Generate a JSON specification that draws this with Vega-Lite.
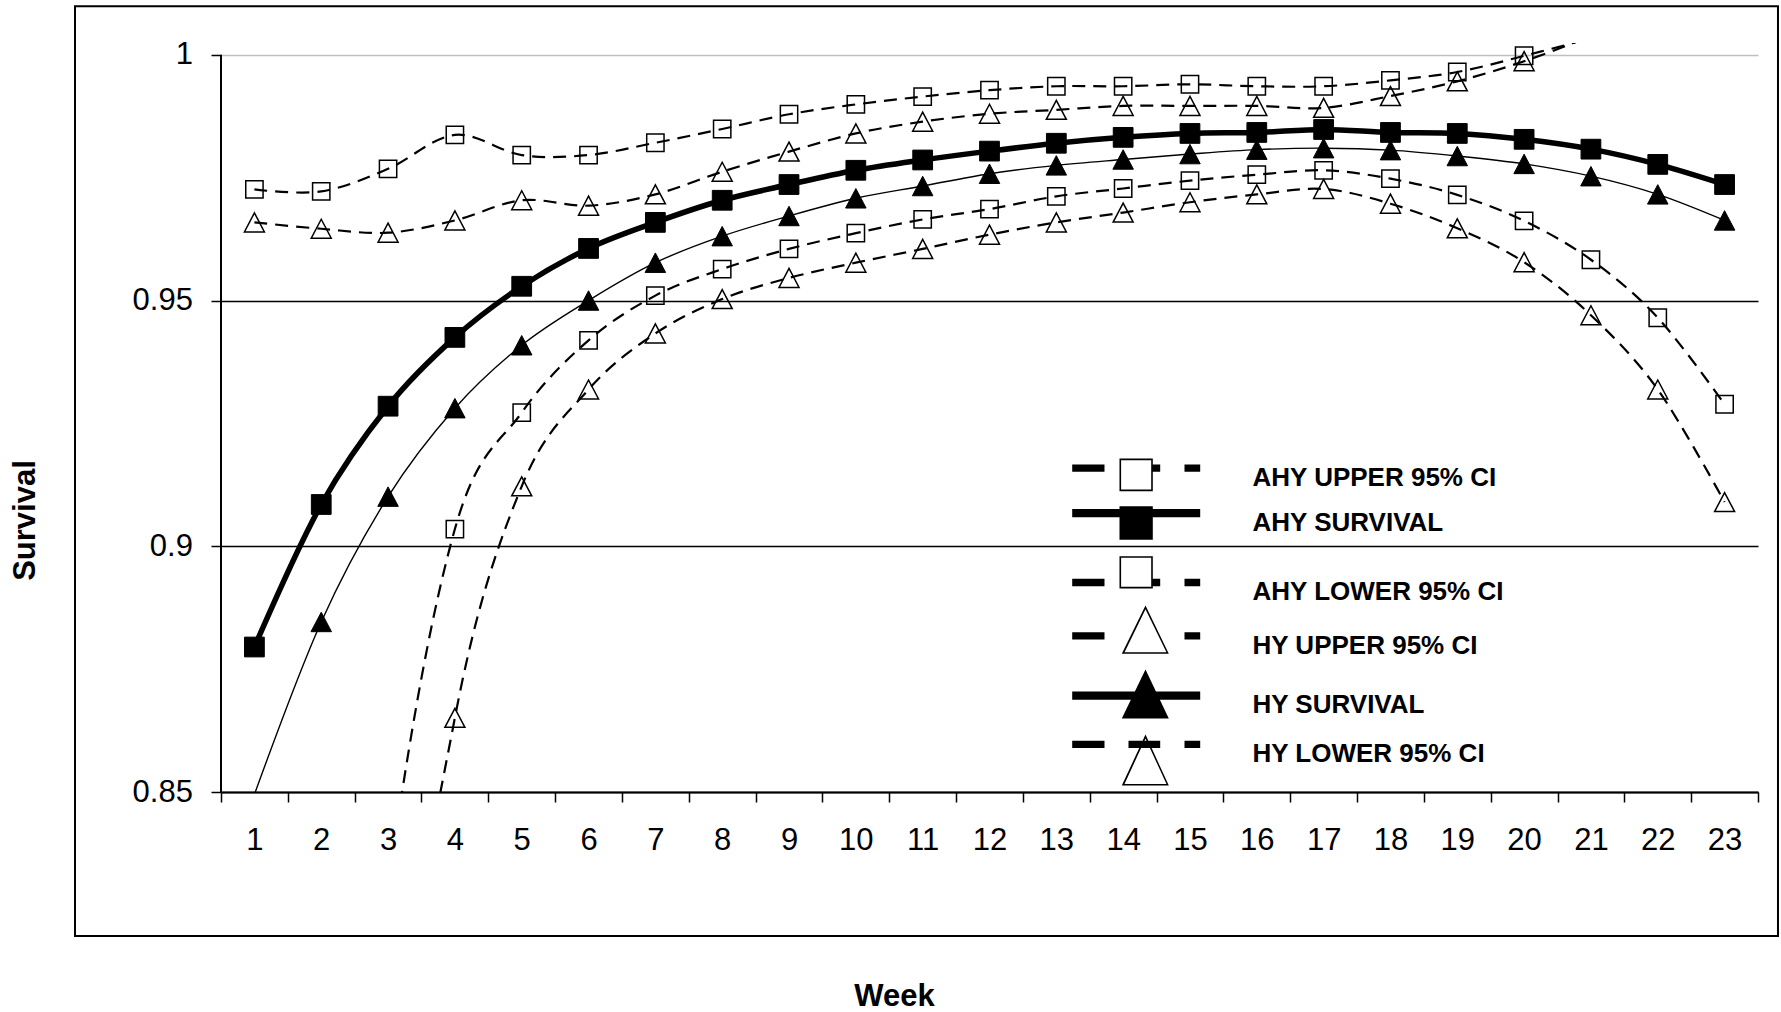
{
  "$schema": "https://vega.github.io/schema/vega-lite/v6.json",
  "width": 1537,
  "height": 749,
  "autosize": {"type": "none"},
  "padding": {"left": 221, "top": 43, "right": 23, "bottom": 220},
  "background": "white",
  "config": {"view": {"stroke": null}, "font": "Liberation Sans"},
  "data": {"values": [
    {"week":1,"series":"AHY UPPER 95% CI","value":0.9726},{"week":2,"series":"AHY UPPER 95% CI","value":0.9722},{"week":3,"series":"AHY UPPER 95% CI","value":0.9768},{"week":4,"series":"AHY UPPER 95% CI","value":0.9837},{"week":5,"series":"AHY UPPER 95% CI","value":0.9796},{"week":6,"series":"AHY UPPER 95% CI","value":0.9796},{"week":7,"series":"AHY UPPER 95% CI","value":0.9821},{"week":8,"series":"AHY UPPER 95% CI","value":0.9849},{"week":9,"series":"AHY UPPER 95% CI","value":0.9879},{"week":10,"series":"AHY UPPER 95% CI","value":0.9899},{"week":11,"series":"AHY UPPER 95% CI","value":0.9915},{"week":12,"series":"AHY UPPER 95% CI","value":0.9928},{"week":13,"series":"AHY UPPER 95% CI","value":0.9936},{"week":14,"series":"AHY UPPER 95% CI","value":0.9936},{"week":15,"series":"AHY UPPER 95% CI","value":0.994},{"week":16,"series":"AHY UPPER 95% CI","value":0.9936},{"week":17,"series":"AHY UPPER 95% CI","value":0.9936},{"week":18,"series":"AHY UPPER 95% CI","value":0.9948},{"week":19,"series":"AHY UPPER 95% CI","value":0.9965},{"week":20,"series":"AHY UPPER 95% CI","value":0.9998},{"week":21,"series":"AHY UPPER 95% CI","value":1.0036},{"week":22,"series":"AHY UPPER 95% CI","value":1.0095},{"week":23,"series":"AHY UPPER 95% CI","value":1.019},
    {"week":1,"series":"AHY SURVIVAL","value":0.8795},{"week":2,"series":"AHY SURVIVAL","value":0.9085},{"week":3,"series":"AHY SURVIVAL","value":0.9285},{"week":4,"series":"AHY SURVIVAL","value":0.9425},{"week":5,"series":"AHY SURVIVAL","value":0.9529},{"week":6,"series":"AHY SURVIVAL","value":0.9606},{"week":7,"series":"AHY SURVIVAL","value":0.9659},{"week":8,"series":"AHY SURVIVAL","value":0.9704},{"week":9,"series":"AHY SURVIVAL","value":0.9736},{"week":10,"series":"AHY SURVIVAL","value":0.9765},{"week":11,"series":"AHY SURVIVAL","value":0.9786},{"week":12,"series":"AHY SURVIVAL","value":0.9804},{"week":13,"series":"AHY SURVIVAL","value":0.982},{"week":14,"series":"AHY SURVIVAL","value":0.9832},{"week":15,"series":"AHY SURVIVAL","value":0.984},{"week":16,"series":"AHY SURVIVAL","value":0.9842},{"week":17,"series":"AHY SURVIVAL","value":0.9848},{"week":18,"series":"AHY SURVIVAL","value":0.9842},{"week":19,"series":"AHY SURVIVAL","value":0.984},{"week":20,"series":"AHY SURVIVAL","value":0.9828},{"week":21,"series":"AHY SURVIVAL","value":0.9808},{"week":22,"series":"AHY SURVIVAL","value":0.9777},{"week":23,"series":"AHY SURVIVAL","value":0.9736},
    {"week":1,"series":"AHY LOWER 95% CI","value":0.55},{"week":2,"series":"AHY LOWER 95% CI","value":0.707},{"week":3,"series":"AHY LOWER 95% CI","value":0.8305},{"week":4,"series":"AHY LOWER 95% CI","value":0.9035},{"week":5,"series":"AHY LOWER 95% CI","value":0.9272},{"week":6,"series":"AHY LOWER 95% CI","value":0.9419},{"week":7,"series":"AHY LOWER 95% CI","value":0.951},{"week":8,"series":"AHY LOWER 95% CI","value":0.9564},{"week":9,"series":"AHY LOWER 95% CI","value":0.9605},{"week":10,"series":"AHY LOWER 95% CI","value":0.9637},{"week":11,"series":"AHY LOWER 95% CI","value":0.9665},{"week":12,"series":"AHY LOWER 95% CI","value":0.9686},{"week":13,"series":"AHY LOWER 95% CI","value":0.9712},{"week":14,"series":"AHY LOWER 95% CI","value":0.9728},{"week":15,"series":"AHY LOWER 95% CI","value":0.9744},{"week":16,"series":"AHY LOWER 95% CI","value":0.9756},{"week":17,"series":"AHY LOWER 95% CI","value":0.9765},{"week":18,"series":"AHY LOWER 95% CI","value":0.9748},{"week":19,"series":"AHY LOWER 95% CI","value":0.9715},{"week":20,"series":"AHY LOWER 95% CI","value":0.9662},{"week":21,"series":"AHY LOWER 95% CI","value":0.9583},{"week":22,"series":"AHY LOWER 95% CI","value":0.9465},{"week":23,"series":"AHY LOWER 95% CI","value":0.9289},
    {"week":1,"series":"HY UPPER 95% CI","value":0.9659},{"week":2,"series":"HY UPPER 95% CI","value":0.9646},{"week":3,"series":"HY UPPER 95% CI","value":0.9638},{"week":4,"series":"HY UPPER 95% CI","value":0.9663},{"week":5,"series":"HY UPPER 95% CI","value":0.9704},{"week":6,"series":"HY UPPER 95% CI","value":0.9693},{"week":7,"series":"HY UPPER 95% CI","value":0.9716},{"week":8,"series":"HY UPPER 95% CI","value":0.9762},{"week":9,"series":"HY UPPER 95% CI","value":0.9803},{"week":10,"series":"HY UPPER 95% CI","value":0.984},{"week":11,"series":"HY UPPER 95% CI","value":0.9864},{"week":12,"series":"HY UPPER 95% CI","value":0.988},{"week":13,"series":"HY UPPER 95% CI","value":0.9888},{"week":14,"series":"HY UPPER 95% CI","value":0.9896},{"week":15,"series":"HY UPPER 95% CI","value":0.9896},{"week":16,"series":"HY UPPER 95% CI","value":0.9896},{"week":17,"series":"HY UPPER 95% CI","value":0.9892},{"week":18,"series":"HY UPPER 95% CI","value":0.9916},{"week":19,"series":"HY UPPER 95% CI","value":0.9946},{"week":20,"series":"HY UPPER 95% CI","value":0.9987},{"week":21,"series":"HY UPPER 95% CI","value":1.004},{"week":22,"series":"HY UPPER 95% CI","value":1.0115},{"week":23,"series":"HY UPPER 95% CI","value":1.024},
    {"week":1,"series":"HY SURVIVAL","value":0.8495},{"week":2,"series":"HY SURVIVAL","value":0.8846},{"week":3,"series":"HY SURVIVAL","value":0.9101},{"week":4,"series":"HY SURVIVAL","value":0.9281},{"week":5,"series":"HY SURVIVAL","value":0.9409},{"week":6,"series":"HY SURVIVAL","value":0.95},{"week":7,"series":"HY SURVIVAL","value":0.9577},{"week":8,"series":"HY SURVIVAL","value":0.9631},{"week":9,"series":"HY SURVIVAL","value":0.9672},{"week":10,"series":"HY SURVIVAL","value":0.9708},{"week":11,"series":"HY SURVIVAL","value":0.9733},{"week":12,"series":"HY SURVIVAL","value":0.9758},{"week":13,"series":"HY SURVIVAL","value":0.9775},{"week":14,"series":"HY SURVIVAL","value":0.9787},{"week":15,"series":"HY SURVIVAL","value":0.9798},{"week":16,"series":"HY SURVIVAL","value":0.9807},{"week":17,"series":"HY SURVIVAL","value":0.981},{"week":18,"series":"HY SURVIVAL","value":0.9806},{"week":19,"series":"HY SURVIVAL","value":0.9794},{"week":20,"series":"HY SURVIVAL","value":0.9778},{"week":21,"series":"HY SURVIVAL","value":0.9753},{"week":22,"series":"HY SURVIVAL","value":0.9716},{"week":23,"series":"HY SURVIVAL","value":0.9663},
    {"week":1,"series":"HY LOWER 95% CI","value":0.3},{"week":2,"series":"HY LOWER 95% CI","value":0.55},{"week":3,"series":"HY LOWER 95% CI","value":0.77},{"week":4,"series":"HY LOWER 95% CI","value":0.8651},{"week":5,"series":"HY LOWER 95% CI","value":0.9122},{"week":6,"series":"HY LOWER 95% CI","value":0.9319},{"week":7,"series":"HY LOWER 95% CI","value":0.9433},{"week":8,"series":"HY LOWER 95% CI","value":0.9503},{"week":9,"series":"HY LOWER 95% CI","value":0.9546},{"week":10,"series":"HY LOWER 95% CI","value":0.9577},{"week":11,"series":"HY LOWER 95% CI","value":0.9605},{"week":12,"series":"HY LOWER 95% CI","value":0.9634},{"week":13,"series":"HY LOWER 95% CI","value":0.9659},{"week":14,"series":"HY LOWER 95% CI","value":0.9679},{"week":15,"series":"HY LOWER 95% CI","value":0.97},{"week":16,"series":"HY LOWER 95% CI","value":0.9716},{"week":17,"series":"HY LOWER 95% CI","value":0.9727},{"week":18,"series":"HY LOWER 95% CI","value":0.9697},{"week":19,"series":"HY LOWER 95% CI","value":0.9647},{"week":20,"series":"HY LOWER 95% CI","value":0.9578},{"week":21,"series":"HY LOWER 95% CI","value":0.947},{"week":22,"series":"HY LOWER 95% CI","value":0.9319},{"week":23,"series":"HY LOWER 95% CI","value":0.909}
  ]},
  "layer": [
    {
      "data": {"values": [{}]},
      "mark": {"type": "rect", "fill": "transparent", "stroke": "black", "strokeWidth": 2},
      "encoding": {
        "x": {"datum": -1.6848, "type": "quantitative", "scale": {"domain": [0.5, 23.5], "nice": false, "zero": false}},
        "x2": {"datum": 23.799},
        "y": {"datum": 1.00987, "type": "quantitative", "scale": {"domain": [0.85, 1.0024], "nice": false, "zero": false}},
        "y2": {"datum": 0.8207}
      }
    },
    {
      "data": {"values": [{}]},
      "mark": {"type": "rule", "stroke": "black", "strokeWidth": 2},
      "encoding": {
        "x": {"datum": 0.5, "type": "quantitative", "scale": {"domain": [0.5, 23.5], "nice": false, "zero": false}},
        "y": {"datum": 0.85, "type": "quantitative", "scale": {"domain": [0.85, 1.0024], "nice": false, "zero": false}},
        "y2": {"datum": 1}
      }
    },
    {
      "transform": [{"filter": "indexof(['AHY UPPER 95% CI','AHY LOWER 95% CI','HY UPPER 95% CI','HY LOWER 95% CI'], datum.series) >= 0"}],
      "mark": {"type": "line", "color": "black", "strokeWidth": 2.2, "strokeDash": [13, 8], "interpolate": "cardinal", "clip": true},
      "encoding": {
        "detail": {"field": "series", "type": "nominal"},
        "x": {"field": "week", "type": "quantitative", "scale": {"domain": [0.5, 23.5], "nice": false, "zero": false},
          "axis": {"values": [0.5,1.5,2.5,3.5,4.5,5.5,6.5,7.5,8.5,9.5,10.5,11.5,12.5,13.5,14.5,15.5,16.5,17.5,18.5,19.5,20.5,21.5,22.5,23.5],
            "labelExpr": "datum.value > 23 ? '' : format(datum.value + 0.5, 'd')",
            "labelOffset": 33.41, "labelFontSize": 31, "labelColor": "black", "labelBaseline": "middle", "labelPadding": 38,
            "labelOverlap": false, "labelFlush": false, "labelBound": false,
            "tickSize": 10, "tickColor": "black", "tickWidth": 1.5,
            "domain": true, "domainColor": "black", "domainWidth": 2, "grid": false,
            "title": "Week", "titleFontSize": 31, "titleFontWeight": "bold", "titleColor": "black",
            "titleX": 673, "titleY": 213, "titleAlign": "center", "titleBaseline": "alphabetic"}},
        "y": {"field": "value", "type": "quantitative", "scale": {"domain": [0.85, 1.0024], "nice": false, "zero": false},
          "axis": {"values": [0.85, 0.9, 0.95, 1], "format": ".2~f",
            "labelFontSize": 31, "labelColor": "black", "labelPadding": 18.6,
            "labelOverlap": false, "labelFlush": false, "labelBound": false,
            "tickSize": 10, "tickColor": "black", "tickWidth": 1.5, "domain": false,
            "grid": true, "gridWidth": 1.5,
            "gridColor": {"condition": {"test": "datum.value >= 0.999", "value": "#c0c0c0"}, "value": "black"},
            "title": "Survival", "titleFontSize": 31, "titleFontWeight": "bold", "titleColor": "black",
            "titleX": -196, "titleY": 477, "titleAngle": -90, "titleAlign": "center", "titleBaseline": "middle"}}
      }
    },
    {
      "transform": [{"filter": "datum.series == 'AHY SURVIVAL'"}],
      "mark": {"type": "line", "color": "black", "strokeWidth": 5.5, "interpolate": "cardinal", "clip": true},
      "encoding": {
        "x": {"field": "week", "type": "quantitative", "scale": {"domain": [0.5, 23.5], "nice": false, "zero": false}},
        "y": {"field": "value", "type": "quantitative", "scale": {"domain": [0.85, 1.0024], "nice": false, "zero": false}}
      }
    },
    {
      "transform": [{"filter": "datum.series == 'HY SURVIVAL'"}],
      "mark": {"type": "line", "color": "black", "strokeWidth": 1.4, "interpolate": "cardinal", "clip": true},
      "encoding": {
        "x": {"field": "week", "type": "quantitative", "scale": {"domain": [0.5, 23.5], "nice": false, "zero": false}},
        "y": {"field": "value", "type": "quantitative", "scale": {"domain": [0.85, 1.0024], "nice": false, "zero": false}}
      }
    },
    {
      "transform": [{"filter": "(datum.series == 'AHY UPPER 95% CI' || datum.series == 'AHY LOWER 95% CI') && datum.value >= 0.85 && datum.value <= 1.0005"}],
      "mark": {"type": "point", "shape": "square", "size": 300, "filled": false, "stroke": "black", "strokeWidth": 1.5, "opacity": 1},
      "encoding": {
        "x": {"field": "week", "type": "quantitative", "scale": {"domain": [0.5, 23.5], "nice": false, "zero": false}},
        "y": {"field": "value", "type": "quantitative", "scale": {"domain": [0.85, 1.0024], "nice": false, "zero": false}}
      }
    },
    {
      "transform": [{"filter": "(datum.series == 'HY UPPER 95% CI' || datum.series == 'HY LOWER 95% CI') && datum.value >= 0.85 && datum.value <= 1.0005"}],
      "mark": {"type": "point", "shape": "M0,-0.95L1,0.95L-1,0.95Z", "size": 400, "filled": false, "stroke": "black", "strokeWidth": 1.5, "opacity": 1},
      "encoding": {
        "x": {"field": "week", "type": "quantitative", "scale": {"domain": [0.5, 23.5], "nice": false, "zero": false}},
        "y": {"field": "value", "type": "quantitative", "scale": {"domain": [0.85, 1.0024], "nice": false, "zero": false}}
      }
    },
    {
      "transform": [{"filter": "datum.series == 'AHY SURVIVAL' && datum.value >= 0.85 && datum.value <= 1.0005"}],
      "mark": {"type": "point", "shape": "square", "size": 390, "filled": true, "fill": "black", "stroke": "black", "strokeWidth": 1, "opacity": 1},
      "encoding": {
        "x": {"field": "week", "type": "quantitative", "scale": {"domain": [0.5, 23.5], "nice": false, "zero": false}},
        "y": {"field": "value", "type": "quantitative", "scale": {"domain": [0.85, 1.0024], "nice": false, "zero": false}}
      }
    },
    {
      "transform": [{"filter": "datum.series == 'HY SURVIVAL' && datum.value >= 0.85 && datum.value <= 1.0005"}],
      "mark": {"type": "point", "shape": "M0,-0.95L1,0.95L-1,0.95Z", "size": 420, "filled": true, "fill": "black", "stroke": "black", "strokeWidth": 1, "opacity": 1},
      "encoding": {
        "x": {"field": "week", "type": "quantitative", "scale": {"domain": [0.5, 23.5], "nice": false, "zero": false}},
        "y": {"field": "value", "type": "quantitative", "scale": {"domain": [0.85, 1.0024], "nice": false, "zero": false}}
      }
    },
    {
      "mark": {"type": "point", "filled": true, "color": "black", "opacity": 0, "size": 1},
      "encoding": {
        "x": {"field": "week", "type": "quantitative", "scale": {"domain": [0.5, 23.5], "nice": false, "zero": false}},
        "y": {"field": "value", "type": "quantitative", "scale": {"domain": [0.85, 1.0024], "nice": false, "zero": false}},
        "shape": {"field": "series", "type": "nominal",
          "scale": {
            "domain": ["AHY UPPER 95% CI", "AHY SURVIVAL", "AHY LOWER 95% CI", "HY UPPER 95% CI", "HY SURVIVAL", "HY LOWER 95% CI"],
            "range": [
              "M-4.9231,-1.05H-2.4385V-0.4885H-4.9231Z M1.2769,-1.05H1.8462V-0.4885H1.2769Z M3.7154,-1.05H4.9231V-0.4885H3.7154Z M-1.2846,-1.5077H1.2769V1H-1.2846Z M-1.1615,-1.3846V0.8769H1.1538V-1.3846Z",
              "M0,-2.4538 M0,2.4192 M-4.9231,-1.0885H4.9231V-0.45H-4.9231Z M-1.2846,-1.3H1.2769V1.2692H-1.2846Z",
              "M-4.9231,-1.0269H-2.4385V-0.4654H-4.9231Z M1.2769,-1.0269H1.8462V-0.4654H1.2769Z M3.7154,-1.0269H4.9231V-0.4654H3.7154Z M-1.2846,-2.7731H1.2769V-0.2885H-1.2846Z M-1.1615,-2.65V-0.4115H1.1538V-2.65Z",
              "M0,1.7385 M-4.9231,-1.0808H-2.4385V-0.5192H-4.9231Z M3.7154,-1.0808H4.9231V-0.5192H3.7154Z M0.7154,-3.1308L2.5077,0.5846H-1.1077Z M0.7154,-2.8492L-0.8954,0.4615H2.3262Z",
              "M-4.9231,-1.05H4.9231V-0.4115H-4.9231Z M0.7154,-2.7462L2.5077,1.0231H-1.1077Z",
              "M0,-2.6923 M-4.9231,-1.0346H-2.4385V-0.4731H-4.9231Z M-0.5923,-1.0346H1.8462V-0.4731H-0.5923Z M3.7154,-1.0346H4.9231V-0.4731H3.7154Z M0.7154,-1.5077L2.5077,2.4154H-1.1077Z M0.7154,-1.2138L-0.9,2.2923H2.3308Z"
            ]
          },
          "legend": {
            "orient": "none", "legendX": 902.2, "legendY": 422.2, "direction": "vertical",
            "title": null, "padding": 0, "rowPadding": 0,
            "symbolSize": 676, "symbolStrokeWidth": 0, "symbolOpacity": 1,
            "symbolFillColor": "black", "symbolStrokeColor": "transparent",
            "labelFont": "Liberation Sans", "labelFontSize": 26, "labelFontWeight": "bold",
            "labelColor": "black", "labelOffset": 103.3, "labelLimit": 500
          }
        }
      }
    }
  ]
}
